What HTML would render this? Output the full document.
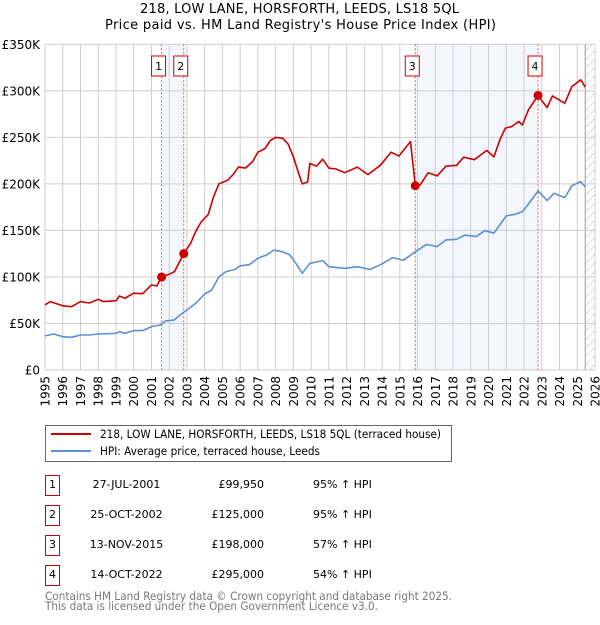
<!DOCTYPE html>
<html><head><meta charset="utf-8"><style>
body{margin:0;background:#fff;font-family:"Liberation Sans","DejaVu Sans",sans-serif}
svg text{font-family:"DejaVu Sans","Liberation Sans",sans-serif}
</style></head><body>
<svg id="c" width="600" height="620" xmlns="http://www.w3.org/2000/svg">
<defs><pattern id="hatch" width="6" height="6" patternUnits="userSpaceOnUse" patternTransform="rotate(45)"><line x1="0" y1="0" x2="0" y2="6" stroke="#bbb" stroke-width="1"/></pattern></defs>
<text x="140" y="13" font-size="13" textLength="319" lengthAdjust="spacing">218, LOW LANE, HORSFORTH, LEEDS, LS18 5QL</text>
<text x="105" y="29" font-size="13" textLength="391" lengthAdjust="spacing">Price paid vs. HM Land Registry's House Price Index (HPI)</text>
<g id="plot"></g>
<g>
<rect x="45.5" y="425.5" width="406" height="36" fill="#fff" stroke="#666"/>
<line x1="51" y1="434" x2="91" y2="434" stroke="#cc0000" stroke-width="2"/>
<text x="100" y="438" font-size="11.5" textLength="341" lengthAdjust="spacingAndGlyphs">218, LOW LANE, HORSFORTH, LEEDS, LS18 5QL (terraced house)</text>
<line x1="51" y1="451" x2="91" y2="451" stroke="#5b8fd4" stroke-width="2"/>
<text x="100" y="455" font-size="11.5" textLength="220" lengthAdjust="spacingAndGlyphs">HPI: Average price, terraced house, Leeds</text>
</g>
<g id="table"></g>
<text x="45" y="600" font-size="11.5" fill="#777" textLength="407" lengthAdjust="spacingAndGlyphs">Contains HM Land Registry data © Crown copyright and database right 2025.</text>
<text x="45" y="610" font-size="11.5" fill="#777" textLength="333" lengthAdjust="spacingAndGlyphs">This data is licensed under the Open Government Licence v3.0.</text>
</svg>
<script>
const yTicks=[0,50000,100000,150000,200000,250000,300000,350000];
const yTickLabels=["£0","£50K","£100K","£150K","£200K","£250K","£300K","£350K"];
const xYears=[1995,1996,1997,1998,1999,2000,2001,2002,2003,2004,2005,2006,2007,2008,2009,2010,2011,2012,2013,2014,2015,2016,2017,2018,2019,2020,2021,2022,2023,2024,2025,2026];
const redT=[1995.0,1995.3,1996.0,1996.5,1997.0,1997.5,1998.0,1998.3,1999.0,1999.2,1999.5,2000.0,2000.5,2001.0,2001.3,2001.57,2002.0,2002.3,2002.82,2003.2,2003.5,2003.8,2004.2,2004.5,2004.8,2005.3,2005.6,2005.9,2006.3,2006.7,2007.0,2007.4,2007.7,2008.0,2008.4,2008.7,2009.0,2009.3,2009.5,2009.8,2009.93,2010.3,2010.65,2011.0,2011.4,2011.9,2012.6,2013.2,2013.9,2014.5,2014.95,2015.6,2015.87,2016.15,2016.6,2017.1,2017.6,2018.2,2018.6,2019.2,2019.9,2020.3,2020.65,2020.95,2021.3,2021.7,2021.9,2022.25,2022.79,2023.3,2023.6,2024.3,2024.7,2025.2,2025.45];
const redV=[70,73.5,69,68,73.5,72,76,73.5,74.5,79.5,77,82.5,82,91.5,90.3,99.95,103,105.7,125,136,149,159,167,186,200,204,210,218,217,224,234,238,246.6,250,249,243,229,211,200,202,222,219,226.5,217,216,212,218,210,220,234,230,245.5,198,199,212,208.6,219,220,228.7,226,236,229,248,260,261.6,267,263.4,279.6,295,282,294.6,286.7,304.7,311.8,304];
const hpiT=[1995.0,1995.5,1996.0,1996.5,1997.0,1997.5,1998.0,1999.0,1999.2,1999.5,2000.0,2000.5,2001.0,2001.5,2001.8,2002.3,2002.6,2003.0,2003.5,2004.0,2004.4,2004.8,2005.2,2005.7,2006.0,2006.5,2007.0,2007.5,2007.9,2008.4,2008.8,2009.2,2009.5,2009.93,2010.65,2011.0,2011.9,2012.6,2013.3,2013.9,2014.6,2015.2,2015.87,2016.5,2017.1,2017.6,2018.2,2018.65,2019.3,2019.8,2020.3,2021.0,2021.5,2021.9,2022.25,2022.8,2023.3,2023.7,2024.3,2024.7,2025.2,2025.45];
const hpiV=[36.6,38.7,35.8,35.1,37.6,37.6,38.7,39.4,41.2,39.4,42.3,42.3,46.6,48.4,52.7,53.8,59,64.5,71.7,81.7,86,100,105.7,108,112,113,120,123.7,129,127,123.7,113,104,114.7,117.6,111,109.3,111,108,113,120.8,118,127,135,132.6,139.8,140.5,145,143.4,149.8,147,165.6,167.4,170,178.5,192.5,182,190,185.3,198,202.5,197];
const saleT=[2001.57,2002.82,2015.87,2022.79];
const saleV=[99950,125000,198000,295000];
const saleLabels=["1","2","3","4"];
const saleDates=["27-JUL-2001","25-OCT-2002","13-NOV-2015","14-OCT-2022"];
const salePrices=["£99,950","£125,000","£198,000","£295,000"];
const saleHpi=["95% ↑ HPI","95% ↑ HPI","57% ↑ HPI","54% ↑ HPI"];

const NS="http://www.w3.org/2000/svg";
const L=45,R=595,T=44.3,B=370;
const xs=t=>L+(t-1995)/(2026-1995)*(R-L);
const ys=v=>B-v/350000*(B-T);
const plot=document.getElementById('plot');
function mk(tag,at,parent){const e=document.createElementNS(NS,tag);for(const k in at)e.setAttribute(k,at[k]);(parent||plot).appendChild(e);return e;}
let e;
e=mk('rect',{x:xs(saleT[0]),y:T,width:xs(saleT[1])-xs(saleT[0]),height:B-T,fill:'#eef3fc',opacity:0.7});


e=mk('rect',{x:xs(saleT[2]),y:T,width:xs(saleT[3])-xs(saleT[2]),height:B-T,fill:'#eef3fc',opacity:0.7});


e=mk('rect',{x:xs(2025.45),y:T,width:R-xs(2025.45),height:B-T,fill:'url(#hatch)'});


mk('line',{x1:xs(2025.45),y1:T,x2:xs(2025.45),y2:B,stroke:'#999','stroke-width':1});
xYears.forEach(y=>{const g=mk('line',{x1:xs(y),y1:T,x2:xs(y),y2:B,stroke:'#cccccc','stroke-width':1});


const t=mk('text',{x:0,y:0,transform:`translate(${xs(y)+4.5},376) rotate(-90)`,'text-anchor':'end','font-size':12});t.textContent=y;

});
yTicks.forEach((v,i)=>{const g=mk('line',{x1:L,y1:ys(v),x2:R,y2:ys(v),stroke:'#cccccc','stroke-width':1});


const t=mk('text',{x:40,y:ys(v)+4.5,'text-anchor':'end','font-size':12});t.textContent=yTickLabels[i];

});
saleT.forEach((t,i)=>{const l=mk('line',{x1:xs(t),y1:T,x2:xs(t),y2:B,stroke:'#ee5555','stroke-width':1,'stroke-dasharray':'2,2'});


const bx=xs(t)-3;
const r=mk('rect',{x:bx-7,y:56,width:14,height:20,fill:'#fff',stroke:'#cc0000'});


const tx=mk('text',{x:bx,y:70,'text-anchor':'middle','font-size':11});tx.textContent=saleLabels[i];

});
function path(T_,V_,col,name){const d=T_.map((t,i)=>(i?'L':'M')+xs(t).toFixed(1)+','+ys(V_[i]*1000).toFixed(1)).join('');
const p=mk('path',{d:d,fill:'none',stroke:col,'stroke-width':1.6,'stroke-linejoin':'round'});

}
path(hpiT,hpiV,'#5b8fd4','hpi-line');
path(redT,redV,'#cc0000','property-line');
saleT.forEach((t,i)=>{const c=mk('circle',{cx:xs(t),cy:ys(saleV[i]),r:4.5,fill:'#cc0000'});

});
const tb=document.getElementById('table');
saleLabels.forEach((s,i)=>{const y=488+i*30;
const r=mk('rect',{x:45.5,y:y-12.5,width:14,height:20,fill:'#fff',stroke:'#cc0000'},tb);


const cells=[[52.5,'middle',s,'table-num'],[126.5,'middle',saleDates[i],'table-date'],[264,'end',salePrices[i],'table-price'],[313,'start',saleHpi[i],'table-hpi']];
cells.forEach(c=>{const t=mk('text',{x:c[0],y:y,'text-anchor':c[1],'font-size':11},tb);t.textContent=c[2];

});});
</script>
</body></html>
